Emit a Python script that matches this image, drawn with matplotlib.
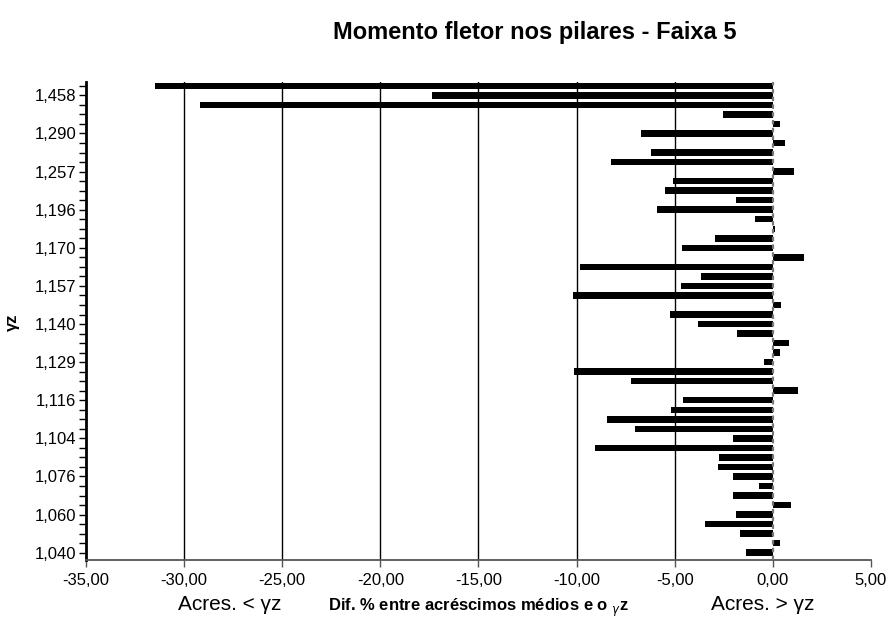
import matplotlib
matplotlib.use("Agg")
import matplotlib.pyplot as plt
import numpy as np

plt.rcParams['font.family'] = ['Liberation Sans', 'DejaVu Sans']

# Percentage difference for each column, listed from the top row down
dif_pct = [
    -31.5, -17.35, -29.2, -2.55, 0.36, -6.73, 0.61, -6.19, -8.23, 1.09,
    -5.08, -5.51, -1.89, -5.88, -0.92, 0.10, -2.96, -4.63, 1.60, -9.81,
    -3.64, -4.69, -10.19, 0.44, -5.22, -3.81, -1.85, 0.83, 0.39, -0.46,
    -10.14, -7.24, 1.29, -4.57, -5.17, -8.45, -7.04, -2.02, -9.05, -2.76,
    -2.79, -2.02, -0.70, -2.02, 0.92, -1.89, -3.47, -1.68, 0.36, -1.38,
]

# Gamma-z values shown on the vertical axis (every fourth row, from row 1)
gz_labels = ["1,458", "1,290", "1,257", "1,196", "1,170", "1,157", "1,140",
             "1,129", "1,116", "1,104", "1,076", "1,060", "1,040"]
label_step = 4
label_start = 1

x_ticks = [-35, -30, -25, -20, -15, -10, -5, 0, 5]
x_ticklabels = ["-35,00", "-30,00", "-25,00", "-20,00", "-15,00", "-10,00",
                "-5,00", "0,00", "5,00"]

fig = plt.figure(figsize=(8.91, 6.21), dpi=100)
ax = fig.add_axes([0.0965, 0.0982, 0.881, 0.770])

rows = np.arange(len(dif_pct))
ax.barh(rows, dif_pct, height=0.68, color='black', zorder=3)

# vertical reference lines
for xv in [-30, -25, -20, -15, -10, -5]:
    ax.axvline(xv, color='black', linewidth=1.0, zorder=1)
ax.axvline(0, color='#777777', linewidth=1.6, linestyle=(0, (2, 1.5)), zorder=4)

ax.set_xlim(-35, 5)
ax.set_ylim(49.77, -0.42)

ax.set_xticks(x_ticks)
ax.set_xticklabels(x_ticklabels, fontsize=12)

label_rows = [label_start + i * label_step for i in range(len(gz_labels))]
ax.set_yticks(label_rows)
ax.set_yticklabels(gz_labels, fontsize=12)
ax.set_yticks(rows, minor=True)
ax.tick_params(axis='y', which='both', length=5, width=1, direction='out', pad=2)
ax.tick_params(axis='x', which='major', length=5, width=1, direction='out', pad=4,
               color='#555555')

for s in ['top', 'right']:
    ax.spines[s].set_visible(False)
ax.spines['left'].set_linewidth(2.0)
ax.spines['bottom'].set_linewidth(1.3)
ax.spines['bottom'].set_color('#555555')

fig.text(535 / 891, 1 - 32 / 621, "Momento fletor nos pilares - Faixa 5",
         ha='center', va='center', fontsize=17, fontweight='bold')
fig.text(12 / 891, 1 - 322 / 621, "γz", rotation=90, ha='center', va='center',
         fontsize=12, fontweight='bold')
fig.text(230 / 891, 1 - 605 / 621, "Acres. < γz", ha='center', va='center', fontsize=15)
fig.text(763 / 891, 1 - 605 / 621, "Acres. > γz", ha='center', va='center', fontsize=15)
fig.text(478 / 891, 1 - 608 / 621, r"Dif. % entre acréscimos médios e o $_{\gamma}$z",
         ha='center', va='center', fontsize=12, fontweight='bold')

fig.savefig("out.png", dpi=100)
